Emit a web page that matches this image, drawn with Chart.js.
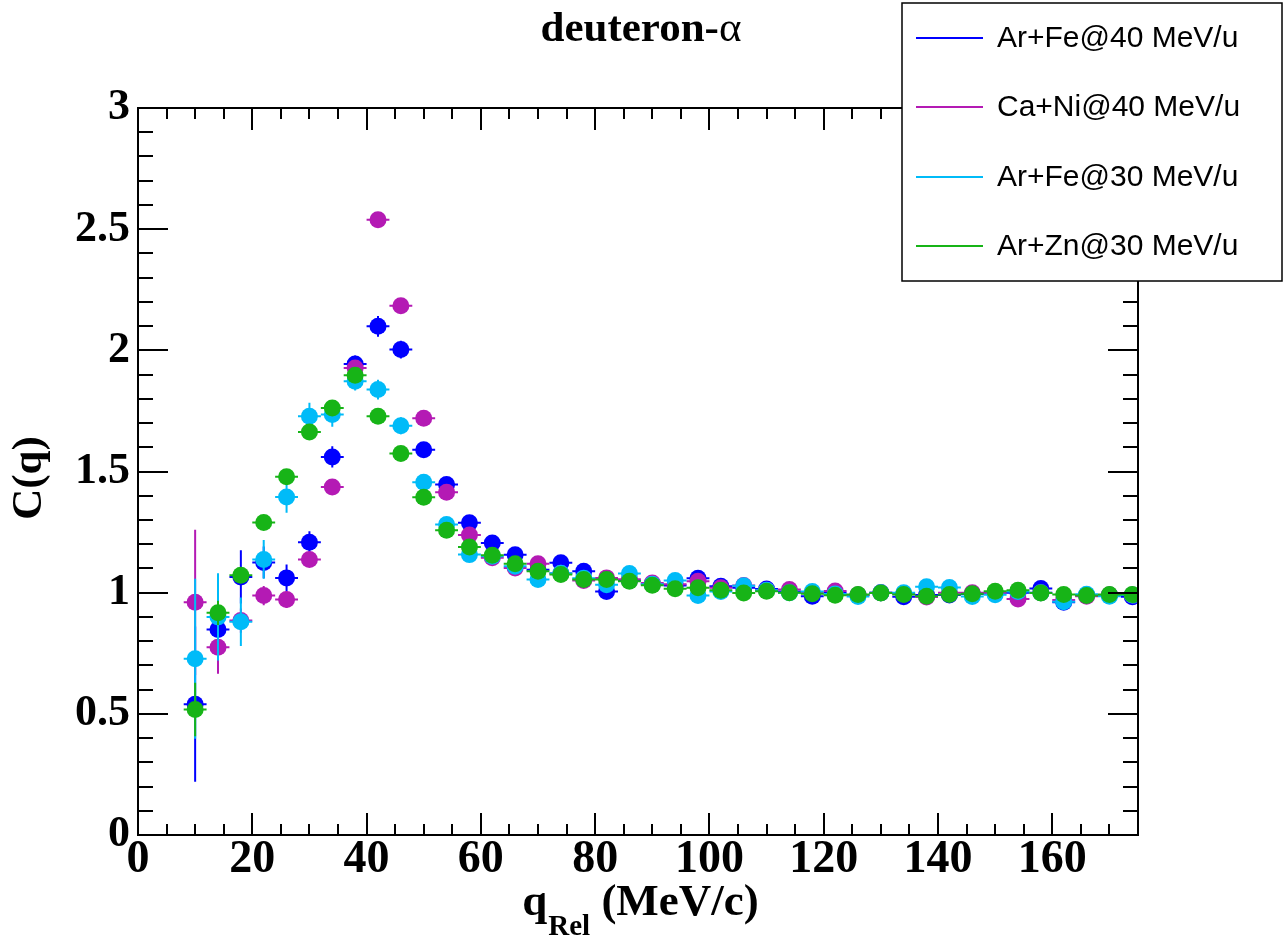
<!DOCTYPE html>
<html>
<head>
<meta charset="utf-8">
<title>deuteron-α correlation</title>
<script src="https://cdn.jsdelivr.net/npm/chart.js@4.4.0/dist/chart.umd.min.js"></script>
<style>
  html, body { margin: 0; padding: 0; background: #ffffff; }
  canvas { display: block; }
</style>
</head>
<body>
<canvas id="c" width="1283" height="938"></canvas>
<script>
// Relative-momentum bin centres (MeV/c); each bin is 4 MeV/c wide
const qBins = [10,14,18,22,26,30,34,38,42,46,50,54,58,62,66,70,74,78,82,86,90,
               94,98,102,106,110,114,118,122,126,130,134,138,142,146,150,154,158,162,166,170,174];
const qHalfWidth = 2;

// C(q) for each reaction
const arFe40 = [0.540,0.848,1.065,1.125,1.061,1.208,1.560,1.944,2.099,2.003,
                1.590,1.446,1.288,1.205,1.156,1.095,1.123,1.088,
                1.005,1.050,1.035,1.030,1.059,1.026,1.020,1.015,1.005,0.985,
                1.000,0.990,1.000,0.983,0.990,0.990,0.995,1.000,1.000,1.017,
                0.960,0.990,0.990,0.983];
const caNi40 = [0.960,0.775,0.885,0.988,0.972,1.137,1.436,1.927,2.539,2.184,
                1.720,1.414,1.238,1.144,1.102,1.119,1.080,1.050,
                1.061,1.055,1.040,1.035,1.047,1.020,1.030,1.010,1.013,1.000,
                1.007,0.990,1.000,0.995,0.982,1.000,1.000,1.000,0.974,1.000,
                0.970,0.985,0.990,0.990];
const arFe30 = [0.727,0.900,0.880,1.137,1.395,1.728,1.735,1.872,1.838,1.689,
                1.456,1.281,1.157,1.150,1.109,1.054,1.080,1.060,
                1.033,1.079,1.035,1.050,0.988,1.005,1.029,1.010,1.000,1.005,
                0.995,0.984,1.000,1.000,1.024,1.021,0.984,0.991,1.005,1.000,
                0.963,0.993,0.985,0.990];
const arZn30 = [0.518,0.917,1.072,1.290,1.478,1.663,1.762,1.897,1.728,1.574,
                1.394,1.258,1.188,1.154,1.119,1.088,1.075,1.054,
                1.054,1.047,1.031,1.016,1.020,1.010,0.999,1.006,1.000,0.996,
                0.989,0.992,0.999,0.992,0.985,0.992,0.996,1.006,1.010,0.999,
                0.992,0.988,0.992,0.992];

// Statistical errors on C(q)
const arFe40Err = [0.320,0.080,0.110,0.065,0.055,0.045,0.044,0.035,0.043,0.037,
                   0.030,0.028,0.025,0.022,0.021,0.020,0.020,0.020,
                   0.020,0.020,0.020,0.020,0.020,0.020,0.020,0.020,0.020,0.020,
                   0.020,0.020,0.020,0.020,0.020,0.020,0.020,0.020,0.020,0.020,
                   0.020,0.020,0.020,0.020];
const caNi40Err = [0.300,0.110,0.050,0.040,0.035,0.030,0.030,0.030,0.030,0.030,
                   0.028,0.025,0.022,0.020,0.020,0.020,0.020,0.020,
                   0.020,0.020,0.020,0.020,0.020,0.020,0.020,0.020,0.020,0.020,
                   0.020,0.020,0.020,0.020,0.020,0.020,0.020,0.020,0.020,0.020,
                   0.020,0.020,0.020,0.020];
const arFe30Err = [0.330,0.180,0.100,0.080,0.065,0.056,0.050,0.038,0.041,0.035,
                   0.030,0.027,0.024,0.022,0.020,0.020,0.020,0.020,
                   0.020,0.020,0.020,0.020,0.020,0.020,0.020,0.020,0.020,0.020,
                   0.020,0.020,0.020,0.020,0.020,0.020,0.020,0.020,0.020,0.020,
                   0.020,0.020,0.020,0.020];
const arZn30Err = [0.110,0.050,0.030,0.025,0.025,0.022,0.022,0.020,0.020,0.020,
                   0.020,0.020,0.020,0.020,0.020,0.020,0.020,0.020,
                   0.020,0.020,0.020,0.020,0.020,0.020,0.020,0.020,0.020,0.020,
                   0.020,0.020,0.020,0.020,0.020,0.020,0.020,0.020,0.020,0.020,
                   0.020,0.020,0.020,0.020];

const seriesLabels = ['Ar+Fe@40 MeV/u', 'Ca+Ni@40 MeV/u', 'Ar+Fe@30 MeV/u', 'Ar+Zn@30 MeV/u'];
const seriesColors = ['#0000ff', '#b41ab4', '#00bbf8', '#17b417'];

const xTickValues = [0,20,40,60,80,100,120,140,160];
const yTickValues = [0,0.5,1,1.5,2,2.5,3];

const chartTitle = 'deuteron-';
const chartTitleGreek = 'α';
const yTitle = 'C(q)';
const xTitleMain = 'q';
const xTitleSub = 'Rel';
const xTitleUnit = ' (MeV/c)';

const serif = '"Liberation Serif", "Times New Roman", serif';
const sans = '"Liberation Sans", Arial, sans-serif';

function makeDataset(label, color, values, errors, order) {
  return {
    label: label,
    data: qBins.map((q, i) => ({ x: q, y: values[i] })),
    errors: errors,
    backgroundColor: color,
    borderColor: color,
    pointRadius: 8.5,
    pointHoverRadius: 8.5,
    pointBorderWidth: 0,
    showLine: false,
    order: order
  };
}

// Error bars: drawn just before each dataset's markers, clipped to the frame
const errorBarPlugin = {
  id: 'errorBars',
  beforeDatasetDraw(chart, args) {
    const ds = chart.data.datasets[args.index];
    const xs = chart.scales.x, ys = chart.scales.y;
    const ctx = chart.ctx;
    const a = chart.chartArea;
    ctx.save();
    ctx.beginPath();
    ctx.rect(a.left, a.top, a.right - a.left, a.bottom - a.top);
    ctx.clip();
    ctx.strokeStyle = ds.borderColor;
    ctx.lineWidth = 2;
    ctx.beginPath();
    ds.data.forEach((p, i) => {
      const e = ds.errors[i];
      const px = xs.getPixelForValue(p.x);
      const py = ys.getPixelForValue(p.y);
      ctx.moveTo(xs.getPixelForValue(p.x - qHalfWidth), py);
      ctx.lineTo(xs.getPixelForValue(p.x + qHalfWidth), py);
      ctx.moveTo(px, ys.getPixelForValue(p.y - e));
      ctx.lineTo(px, ys.getPixelForValue(p.y + e));
    });
    ctx.stroke();
    ctx.restore();
  }
};

// Frame, inward ticks, titles and legend box
const decorPlugin = {
  id: 'decor',
  afterDraw(chart) {
    const ctx = chart.ctx;
    const { left, right, top, bottom } = chart.chartArea;
    const xs = chart.scales.x, ys = chart.scales.y;
    ctx.save();
    ctx.strokeStyle = '#000';
    ctx.lineWidth = 2;
    ctx.strokeRect(left, top, right - left, bottom - top);

    ctx.beginPath();
    for (let i = 0; i * 5 <= xs.max; i++) {
      const v = i * 5;
      const px = Math.round(xs.getPixelForValue(v));
      const len = (v % 20 === 0) ? 22 : 11;
      ctx.moveTo(px, bottom); ctx.lineTo(px, bottom - len);
      ctx.moveTo(px, top); ctx.lineTo(px, top + len);
    }
    for (let i = 0; i <= 30; i++) {
      const v = i / 10;
      const py = Math.round(ys.getPixelForValue(v));
      const len = (i % 5 === 0) ? 30 : 15;
      ctx.moveTo(left, py); ctx.lineTo(left + len, py);
      ctx.moveTo(right, py); ctx.lineTo(right - len, py);
    }
    ctx.stroke();

    // Title
    ctx.fillStyle = '#000';
    ctx.textBaseline = 'alphabetic';
    ctx.textAlign = 'left';
    ctx.font = 'bold 43px ' + serif;
    const w1 = ctx.measureText(chartTitle).width;
    ctx.font = '43px ' + serif;
    const w2 = ctx.measureText(chartTitleGreek).width;
    let tx = 641 - (w1 + w2) / 2;
    ctx.font = 'bold 43px ' + serif;
    ctx.fillText(chartTitle, tx, 41);
    ctx.font = '43px ' + serif;
    ctx.fillText(chartTitleGreek, tx + w1, 41);

    // Y axis title
    ctx.save();
    ctx.translate(41, 478);
    ctx.rotate(-Math.PI / 2);
    ctx.font = 'bold 43px ' + serif;
    ctx.textAlign = 'center';
    ctx.fillText(yTitle, 0, 0);
    ctx.restore();

    // X axis title with subscript
    ctx.font = 'bold 45px ' + serif;
    const wq = ctx.measureText(xTitleMain).width;
    ctx.font = 'bold 29px ' + serif;
    const ws = ctx.measureText(xTitleSub).width;
    ctx.font = 'bold 45px ' + serif;
    const wu = ctx.measureText(xTitleUnit).width;
    let ax = 640 - (wq + ws + wu) / 2;
    ctx.fillText(xTitleMain, ax, 915);
    ctx.font = 'bold 29px ' + serif;
    ctx.fillText(xTitleSub, ax + wq + 1, 935);
    ctx.font = 'bold 45px ' + serif;
    ctx.fillText(xTitleUnit, ax + wq + ws + 1, 915);

    // Legend
    const bx = 902, by = 3, bw = 380, bh = 278;
    ctx.fillStyle = '#fff';
    ctx.fillRect(bx, by, bw, bh);
    ctx.lineWidth = 1.5;
    ctx.strokeStyle = '#000';
    ctx.strokeRect(bx, by, bw, bh);
    const rowY = [38, 107, 177, 246];
    ctx.font = '30px ' + sans;
    ctx.textBaseline = 'middle';
    chart.data.datasets.forEach((ds, i) => {
      ctx.strokeStyle = ds.borderColor;
      ctx.lineWidth = 2;
      ctx.beginPath();
      ctx.moveTo(916, rowY[i]);
      ctx.lineTo(983, rowY[i]);
      ctx.stroke();
      ctx.fillStyle = '#000';
      ctx.fillText(ds.label, 997, rowY[i] + 1);
    });
    ctx.restore();
  }
};

new Chart(document.getElementById('c'), {
  type: 'scatter',
  data: {
    datasets: [
      makeDataset(seriesLabels[0], seriesColors[0], arFe40, arFe40Err, 4),
      makeDataset(seriesLabels[1], seriesColors[1], caNi40, caNi40Err, 3),
      makeDataset(seriesLabels[2], seriesColors[2], arFe30, arFe30Err, 2),
      makeDataset(seriesLabels[3], seriesColors[3], arZn30, arZn30Err, 1)
    ]
  },
  options: {
    responsive: false,
    animation: false,
    devicePixelRatio: 1,
    layout: { padding: { left: 0, right: 145, top: 108, bottom: 0 } },
    plugins: {
      legend: { display: false },
      tooltip: { enabled: false },
      title: { display: false }
    },
    scales: {
      x: {
        type: 'linear',
        min: 0, max: 175,
        afterFit(s) { s.height = 103; },
        afterBuildTicks(s) { s.ticks = xTickValues.map(v => ({ value: v })); },
        grid: { display: false, drawTicks: false },
        border: { display: false },
        ticks: {
          color: '#000',
          font: { family: serif, size: 46, weight: 'bold' },
          padding: -2,
          maxRotation: 0,
          autoSkip: false,
          callback: v => String(v)
        }
      },
      y: {
        type: 'linear',
        min: 0, max: 3,
        afterFit(s) { s.width = 138; },
        afterBuildTicks(s) { s.ticks = yTickValues.map(v => ({ value: v })); },
        grid: { display: false, drawTicks: false },
        border: { display: false },
        ticks: {
          color: '#000',
          font: { family: serif, size: 44, weight: 'bold' },
          padding: 8,
          autoSkip: false,
          callback: v => String(v)
        }
      }
    }
  },
  plugins: [errorBarPlugin, decorPlugin]
});
</script>
</body>
</html>
